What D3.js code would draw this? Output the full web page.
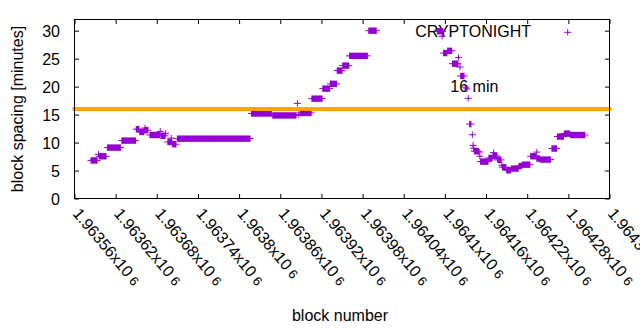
<!DOCTYPE html>
<html><head><meta charset="utf-8">
<script src="https://cdn.jsdelivr.net/npm/d3@7"></script>
<style>
html,body{margin:0;padding:0;background:#fff;}
svg{display:block;font-family:"Liberation Sans",Arial,sans-serif;}
</style></head>
<body><svg id="c" width="640" height="330"></svg>
<script>
// block ranges with a constant block spacing (minutes)
const blockFrom = [1963584,1963595,1963596,1963608,1963629,1963650,1963655,1963662,1963663,1963670,1963685,1963686,1963693,1963696,1963701,1963703,1963710,1963818,1963849,1963885,1963887,1963889,1963906,1963922,1963933,1963943,1963951,1963961,1963989,1964089,1964096,1964098,1964104,1964111,1964120,1964122,1964123,1964130,1964132,1964134,1964136,1964140,1964141,1964142,1964143,1964150,1964151,1964152,1964164,1964171,1964170,1964177,1964183,1964184,1964190,1964197,1964208,1964213,1964225,1964234,1964234,1964239,1964256,1964264,1964274,1964283];
const blockTo   = [1963593,1963595,1963606,1963627,1963649,1963654,1963661,1963667,1963663,1963684,1963685,1963692,1963693,1963702,1963701,1963708,1963816,1963847,1963883,1963885,1963887,1963905,1963921,1963932,1963942,1963950,1963960,1963987,1964000,1964097,1964096,1964103,1964110,1964119,1964120,1964122,1964128,1964130,1964132,1964134,1964138,1964140,1964141,1964142,1964149,1964150,1964151,1964163,1964169,1964171,1964176,1964182,1964183,1964189,1964196,1964207,1964212,1964224,1964233,1964234,1964238,1964254,1964263,1964273,1964282,1964304];
const spacing   = [6.8,7.9,7.55,9.1,10.35,12.4,11.9,12.2,12.6,11.35,12.0,11.2,11.66,10.1,10.8,9.7,10.7,15.2,14.85,17.0,15.0,15.3,17.85,19.64,20.5,22.86,23.75,25.5,30.0,29.9,29.0,26.0,26.4,24.1,25.2,23.5,21.9,19.9,19.6,17.9,13.3,11.4,9.5,9.0,8.45,8.3,7.55,6.6,7.25,8.2,7.6,6.9,5.95,5.6,5.05,5.35,5.8,6.05,7.55,8.3,7.14,6.96,8.93,11.07,11.6,11.35];

const seriesName = "CRYPTONIGHT";
const targetMinutes = 16;
const targetLabel = "16 min";
const targetLabelBlock = 1964108;
const targetLabelValue = 19;

const xTickValues = [1963560,1963620,1963680,1963740,1963800,1963860,1963920,1963980,1964040,1964100,1964160,1964220,1964280,1964340];
const xTickMantissa = ["1.96356","1.96362","1.96368","1.96374","1.9638","1.96386","1.96392","1.96398","1.96404","1.9641","1.96416","1.96422","1.96428","1.96434"];
const xTickExponent = "6";
const yTickValues = [0,5,10,15,20,25,30];
const xTitle = "block number";
const yTitle = "block spacing [minutes]";

const svg = d3.select("#c");
const L = 74.5, R = 609.5, T = 19.5, B = 198.5;
const x = d3.scaleLinear().domain([1963560,1964340]).range([L,R]);
const y = d3.scaleLinear().domain([0,32]).range([B,T]);
const purple = "#9400d3", orange = "#ffa500";
const fs = 16;

// axes (inward ticks, mirrored)
const tickLen = 4.5;
const gA = svg.append("g");
gA.append("g").attr("transform",`translate(0,${B})`)
  .call(d3.axisBottom(x).tickValues(xTickValues).tickSize(-tickLen).tickFormat(""))
  .call(g=>{g.select(".domain").remove();g.selectAll("line").attr("stroke","#000");});
gA.append("g").attr("transform",`translate(0,${T})`)
  .call(d3.axisTop(x).tickValues(xTickValues).tickSize(-tickLen).tickFormat(""))
  .call(g=>{g.select(".domain").remove();g.selectAll("line").attr("stroke","#000");});
gA.append("g").attr("transform",`translate(${L},0)`)
  .call(d3.axisLeft(y).tickValues(yTickValues).tickSize(-tickLen).tickFormat(""))
  .call(g=>{g.select(".domain").remove();g.selectAll("line").attr("stroke","#000");});
gA.append("g").attr("transform",`translate(${R},0)`)
  .call(d3.axisRight(y).tickValues(yTickValues).tickSize(-tickLen).tickFormat(""))
  .call(g=>{g.select(".domain").remove();g.selectAll("line").attr("stroke","#000");});

// y tick labels
svg.append("g").selectAll("text").data(yTickValues).join("text")
  .attr("x",60).attr("y",d=>y(d)+6).attr("text-anchor","end")
  .attr("font-size",fs).attr("fill","#000").text(d=>d);

// x tick labels rotated
const xl = svg.append("g").selectAll("text").data(xTickValues).join("text")
  .attr("transform",(d)=>`translate(${x(d)-2.5},${214}) rotate(50)`)
  .attr("font-size",fs).attr("fill","#000");
xl.append("tspan").text((d,i)=>xTickMantissa[i]+"x10");
xl.append("tspan").attr("dx",4).attr("font-size",13).text(xTickExponent);

// titles
svg.append("text").attr("x",(L+R)/2-2).attr("y",321).attr("text-anchor","middle")
  .attr("font-size",fs).text(xTitle);
svg.append("text").attr("transform",`translate(${23},${(T+B)/2}) rotate(-90)`)
  .attr("text-anchor","middle").attr("font-size",fs).text(yTitle);

// label and legend text (drawn beneath the points)
svg.append("text").attr("x",x(targetLabelBlock)).attr("y",y(targetLabelValue))
  .attr("font-size",fs).text(targetLabel);
svg.append("text").attr("x",531).attr("y",37).attr("text-anchor","end")
  .attr("font-size",fs).text(seriesName);

// points: each run of "+" markers
const hx = 3.5, hy = 3.2;
const runs = blockFrom.map((f,i)=>({f, t:blockTo[i], v:spacing[i]}));
const gP = svg.append("g");
gP.selectAll("rect").data(runs).join("rect")
  .attr("x",d=>x(d.f)-0.5).attr("width",d=>x(d.t)-x(d.f)+1)
  .attr("y",d=>y(d.v)-hy).attr("height",2*hy).attr("fill",purple);
gP.selectAll("line").data(runs).join("line")
  .attr("x1",d=>x(d.f)-hx).attr("x2",d=>x(d.t)+hx)
  .attr("y1",d=>y(d.v)).attr("y2",d=>y(d.v)).attr("stroke",purple).attr("stroke-width",1);

// legend sample
const lx = 567.7, ly = 32.3;
svg.append("path").attr("d",`M${lx-hx},${ly}H${lx+hx}M${lx},${ly-hy}V${ly+hy}`)
  .attr("stroke",purple).attr("stroke-width",1).attr("fill","none");

// target line
svg.append("line").attr("x1",L).attr("x2",R).attr("y1",y(targetMinutes)).attr("y2",y(targetMinutes))
  .attr("stroke",orange).attr("stroke-width",4).attr("stroke-linecap","square");

// frame
svg.append("rect").attr("x",L).attr("y",T).attr("width",R-L).attr("height",B-T)
  .attr("fill","none").attr("stroke","#000").attr("stroke-width",1);
</script></body></html>
